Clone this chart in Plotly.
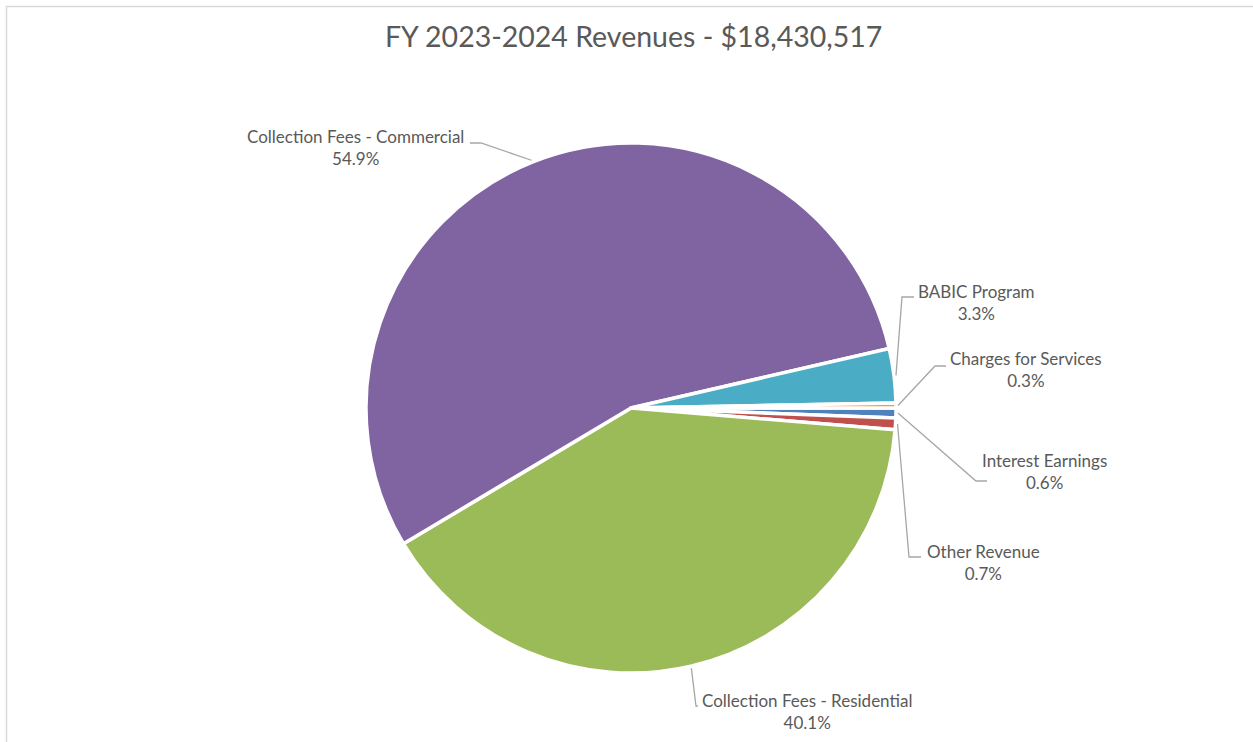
import math
import plotly.graph_objects as go

# Revenue sources, in the order the slices are drawn (clockwise from 3 o'clock)
labels = [
    "Interest Earnings",
    "Other Revenue",
    "Collection Fees - Residential",
    "Collection Fees - Commercial",
    "BABIC Program",
    "Charges for Services",
]
shares = [0.6, 0.7, 40.1, 54.9, 3.3, 0.3]  # percent of total revenue
colors = ["#4F81BD", "#C0504D", "#9BBB59", "#8064A2", "#4BACC6", "#F79646"]
title_text = "FY 2023-2024 Revenues - $18,430,517"

W, H = 1253, 742
CX, CY, R = 631, 408, 265          # pie centre and radius in pixels
START_DEG = 90                      # first slice starts at 3 o'clock

# label block centre (px) and the elbow / end of each leader line (px)
label_pos = {
    "Interest Earnings": ((1044, 471), [(976, 481), (987, 481)]),
    "Other Revenue": ((983, 562), [(909, 557), (921, 557)]),
    "Collection Fees - Residential": ((807, 711), [(696, 706), (698, 706)]),
    "Collection Fees - Commercial": ((355, 147), [(481, 143), (470, 143)]),
    "BABIC Program": ((976, 303), [(902, 297), (914, 297)]),
    "Charges for Services": ((1026, 370), [(935, 366), (946, 366)]),
}


def px(x):
    return x / W


def py(y):
    return 1 - y / H


fig = go.Figure(
    go.Pie(
        labels=labels,
        values=shares,
        marker=dict(colors=colors, line=dict(color="white", width=3.5)),
        sort=False,
        direction="clockwise",
        rotation=START_DEG,
        textinfo="none",
        hoverinfo="label+value",
        showlegend=False,
        domain=dict(x=[px(CX - R), px(CX + R)], y=[py(CY + R), py(CY - R)]),
    )
)

total = sum(shares)
cum = 0.0
shapes = []
annotations = []
for lab, val in zip(labels, shares):
    mid = math.radians(START_DEG + 360 * (cum + val / 2) / total)
    cum += val
    ax = CX + (R + 2) * math.sin(mid)
    ay = CY - (R + 2) * math.cos(mid)
    (tx, ty), pts = label_pos[lab]
    path = f"M {px(ax)} {py(ay)}" + "".join(f" L {px(x)} {py(y)}" for x, y in pts)
    shapes.append(dict(type="path", xref="paper", yref="paper", path=path,
                       line=dict(color="#A6A6A6", width=1.3)))
    annotations.append(dict(
        x=px(tx), y=py(ty), xref="paper", yref="paper",
        text=f"{lab}<br>{val:.1f}%", showarrow=False,
        xanchor="center", yanchor="middle", align="center",
        font=dict(family="Lato", size=17, color="#595959"),
    ))

annotations.append(dict(
    x=px(633), y=py(36), xref="paper", yref="paper", text=title_text,
    showarrow=False, xanchor="center", yanchor="middle",
    font=dict(family="Lato", size=28.5, color="#595959"),
))

# chart-area frame (top and left edges visible)
shapes.append(dict(type="path", xref="paper", yref="paper",
                   path=f"M {px(6.5)} {py(760)} L {px(6.5)} {py(6.5)} L {px(1270)} {py(6.5)}",
                   line=dict(color="#D9D9D9", width=1.5)))

fig.update_layout(
    width=W, height=H,
    margin=dict(l=0, r=0, t=0, b=0),
    paper_bgcolor="white", plot_bgcolor="white",
    shapes=shapes, annotations=annotations,
)

fig.write_html("out.html")
